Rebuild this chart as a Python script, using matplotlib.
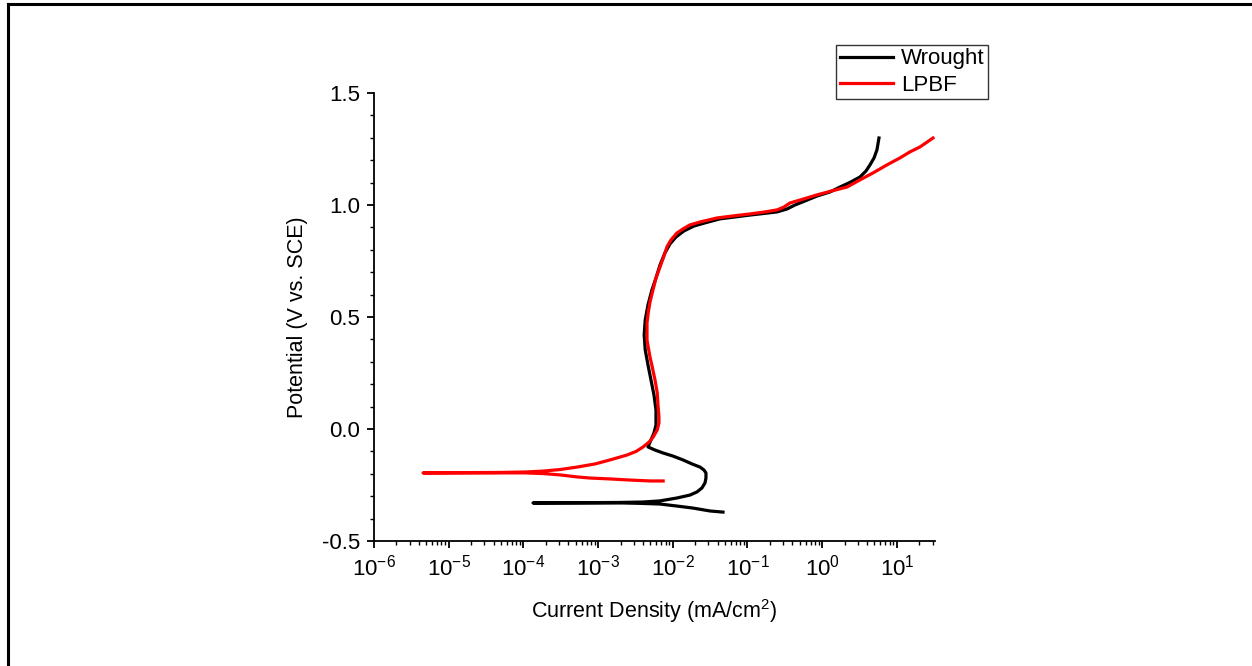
import numpy as np
import matplotlib
matplotlib.use("Agg")
import matplotlib.pyplot as plt
from matplotlib.lines import Line2D
from matplotlib.ticker import LogLocator, MultipleLocator

plt.rcParams["font.family"] = ["Liberation Sans", "DejaVu Sans"]
plt.rcParams["mathtext.fontset"] = "custom"
plt.rcParams["mathtext.rm"] = "Liberation Sans"
plt.rcParams["mathtext.it"] = "Liberation Sans:italic"

# ── Data (log10 current density, potential) ──
wrought_logi = [-1.328, -1.502, -1.730, -1.944, -2.171, -2.439, -2.707, -3.242,
                -3.871,
                -3.242, -2.707, -2.399, -2.171, -1.944, -1.770, -1.676,
                -1.609, -1.569, -1.556, -1.556, -1.583, -1.636, -1.743,
                -1.864, -1.997, -2.131, -2.238, -2.332, -2.292, -2.252,
                -2.225, -2.225, -2.252, -2.292, -2.332, -2.369, -2.383,
                -2.369, -2.332, -2.279, -2.225, -2.171, -2.105, -2.038,
                -1.958, -1.851, -1.717, -1.570, -1.369, -0.967, -0.605,
                -0.471, -0.364, -0.230, -0.070, 0.104, 0.238, 0.385,
                0.506, 0.587, 0.640, 0.694, 0.733, 0.760]
wrought_e = [-0.371, -0.366, -0.353, -0.344, -0.335, -0.332, -0.330, -0.330,
             -0.330,
             -0.329, -0.328, -0.326, -0.321, -0.308, -0.295, -0.281,
             -0.263, -0.241, -0.219, -0.196, -0.183, -0.170, -0.156,
             -0.138, -0.121, -0.107, -0.094, -0.080, -0.049, -0.018,
             0.018, 0.085, 0.152, 0.219, 0.286, 0.353, 0.420,
             0.487, 0.554, 0.621, 0.674, 0.732, 0.786, 0.826,
             0.857, 0.884, 0.906, 0.920, 0.938, 0.955, 0.969,
             0.982, 1.000, 1.018, 1.040, 1.058, 1.080, 1.103,
             1.125, 1.152, 1.179, 1.210, 1.246, 1.299]

lpbf_logi = [-2.129, -2.303, -2.571, -2.839, -3.107, -3.281, -3.508, -3.736,
             -3.977, -4.312, -4.847, -5.343,
             -4.847, -4.312, -3.977, -3.736, -3.508, -3.281, -3.040, -2.839,
             -2.611, -2.490, -2.397, -2.316, -2.263, -2.208, -2.185,
             -2.185, -2.198, -2.208, -2.238, -2.275, -2.305, -2.329,
             -2.345, -2.345, -2.345, -2.329, -2.305, -2.265, -2.225,
             -2.171, -2.118, -2.078, -2.024, -1.944, -1.864, -1.770,
             -1.636, -1.409, -1.195, -0.967, -0.766, -0.605, -0.511,
             -0.431, -0.297, -0.070, 0.131, 0.332, 0.506, 0.680,
             0.867, 1.041, 1.175, 1.309, 1.483]
lpbf_e = [-0.232, -0.232, -0.228, -0.223, -0.219, -0.214, -0.205, -0.199,
          -0.196, -0.196, -0.196, -0.196,
          -0.195, -0.194, -0.192, -0.188, -0.181, -0.170, -0.156, -0.138,
          -0.116, -0.100, -0.080, -0.058, -0.036, -0.004, 0.027,
          0.054, 0.107, 0.161, 0.219, 0.277, 0.321, 0.366,
          0.397, 0.429, 0.473, 0.518, 0.567, 0.621, 0.674,
          0.723, 0.772, 0.813, 0.844, 0.875, 0.893, 0.911,
          0.924, 0.942, 0.951, 0.960, 0.969, 0.978, 0.991,
          1.009, 1.022, 1.045, 1.063, 1.080, 1.112, 1.143,
          1.179, 1.210, 1.237, 1.259, 1.299]

x_ticks = [1e-6, 1e-5, 1e-4, 1e-3, 1e-2, 1e-1, 1e0, 1e1]
x_labels = [r"10$^{\mathregular{%d}}$" % k for k in range(-6, 2)]

# ── Plot ──────────────────────────────────────────────────────
fig = plt.figure(figsize=(12.52, 6.66), dpi=100)
ax = fig.add_axes([0.2987, 0.1877, 0.4481, 0.6727])

ax.plot(10 ** np.array(wrought_logi), wrought_e, color="black", lw=2.3,
        label="Wrought", solid_joinstyle="round")
ax.plot(10 ** np.array(lpbf_logi), lpbf_e, color="red", lw=2.3,
        label="LPBF", solid_joinstyle="round")

ax.set_xscale("log")
ax.set_xlim(1e-6, 10 ** 1.51)
ax.set_ylim(-0.5, 1.5)
ax.set_xticks(x_ticks)
ax.set_xticklabels(x_labels)
ax.xaxis.set_minor_locator(LogLocator(base=10, subs=np.arange(2, 10)))
ax.yaxis.set_major_locator(MultipleLocator(0.5))
ax.yaxis.set_minor_locator(MultipleLocator(0.1))
ax.yaxis.set_major_formatter(plt.FuncFormatter(lambda v, p: f"{v:.1f}"))

for s in ("top", "right"):
    ax.spines[s].set_visible(False)
for s in ("left", "bottom"):
    ax.spines[s].set_linewidth(1.3)
ax.tick_params(which="major", direction="out", length=5, width=1.3,
               labelsize=16, pad=5)
ax.tick_params(which="minor", direction="out", length=3, width=1.0)

ax.set_xlabel("Current Density (mA/cm$^2$)", fontsize=15.5, labelpad=12)
ax.set_ylabel("Potential (V vs. SCE)", fontsize=15.5, labelpad=10)

leg = ax.legend(loc="upper right", bbox_to_anchor=(1.094, 1.107),
                fontsize=16, frameon=True, fancybox=False,
                handlelength=2.4, borderpad=0.15, labelspacing=0.25,
                handletextpad=0.35, borderaxespad=0)
leg.get_frame().set_edgecolor("black")
leg.get_frame().set_linewidth(1.0)

# border lines of the original figure (top and left only)
fig.add_artist(Line2D([7.5 / 1252, 1], [1 - 3.5 / 666, 1 - 3.5 / 666],
                      color="black", lw=2.2, transform=fig.transFigure))
fig.add_artist(Line2D([7.5 / 1252, 7.5 / 1252], [0, 1 - 3.5 / 666],
                      color="black", lw=2.2, transform=fig.transFigure))

plt.savefig("out.png", dpi=100)
plt.close()
